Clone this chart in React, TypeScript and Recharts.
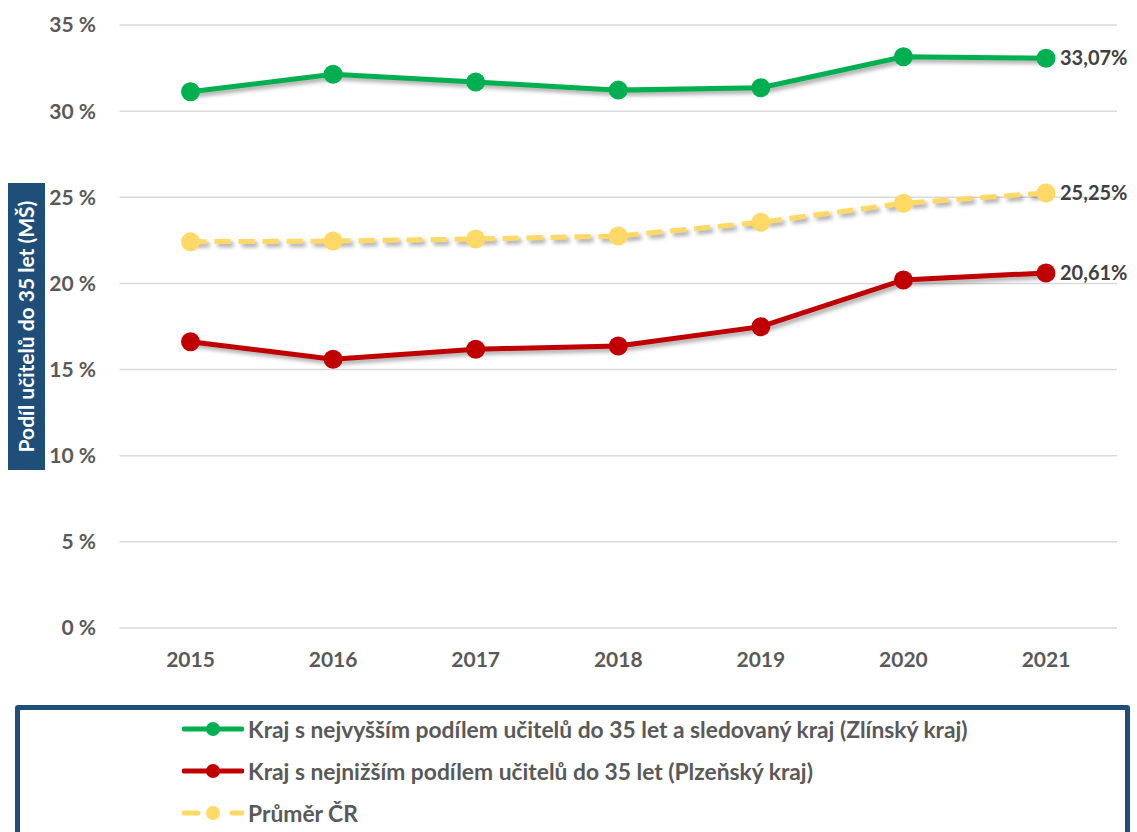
import { LineChart, Line, XAxis, YAxis, CartesianGrid, LabelList } from 'recharts';

const years = ['2015', '2016', '2017', '2018', '2019', '2020', '2021'];
const zlinsky = [31.13, 32.14, 31.69, 31.22, 31.36, 33.16, 33.07];
const plzensky = [16.62, 15.6, 16.18, 16.37, 17.49, 20.2, 20.61];
const prumerCR = [22.42, 22.46, 22.58, 22.75, 23.55, 24.65, 25.25];
const yTicks = [0, 5, 10, 15, 20, 25, 30, 35];

const SERIES = [
  { key: 'zlin', name: 'Kraj s nejvyšším podílem učitelů do 35 let a sledovaný kraj (Zlínský kraj)', color: '#00B050', dash: undefined },
  { key: 'plzen', name: 'Kraj s nejnižším podílem učitelů do 35 let (Plzeňský kraj)', color: '#C00000', dash: undefined },
  { key: 'cr', name: 'Průměr ČR', color: '#FFD966', dash: '16 8' },
];

const data = years.map((year, i) => ({
  year,
  zlin: zlinsky[i],
  plzen: plzensky[i],
  cr: prumerCR[i],
}));

const FONT = 'Lato, "Open Sans", sans-serif';
const AXIS_TEXT = { fill: '#595959', fontSize: 21, fontWeight: 700, fontFamily: FONT };

// only the last point gets a value label, Czech decimal comma
function LastLabel(props: any) {
  const { x, y, value, index } = props;
  if (index !== years.length - 1) return null;
  return (
    <text x={x + 14} y={y} dy="0.36em" fill="#404040" fontSize={20} fontWeight={700} fontFamily={FONT}>
      {Number(value).toFixed(2).replace('.', ',')}%
    </text>
  );
}

function YTitle(props: any) {
  const { viewBox } = props;
  const cy = viewBox.y + viewBox.height / 2;
  const w = 37;
  const h = 287;
  return (
    <g>
      <rect x={8} y={cy - h / 2} width={w} height={h} fill="#1F4E79" />
      <text
        x={8 + w / 2}
        y={cy}
        transform={`rotate(-90 ${8 + w / 2} ${cy})`}
        textAnchor="middle"
        dy="0.36em"
        fill="#fff"
        fontSize={21}
        fontWeight={700}
        fontFamily={FONT}
      >
        Podíl učitelů do 35 let (MŠ)
      </text>
    </g>
  );
}

function LegendIcon({ color, dash }: { color: string; dash?: string }) {
  return (
    <svg width={62} height={20} style={{ display: 'block' }}>
      {dash ? (
        <>
          <line x1={2} y1={10} x2={16} y2={10} stroke={color} strokeWidth={5} strokeLinecap="round" />
          <line x1={50} y1={10} x2={60} y2={10} stroke={color} strokeWidth={5} strokeLinecap="round" />
        </>
      ) : (
        <line x1={2} y1={10} x2={60} y2={10} stroke={color} strokeWidth={5} strokeLinecap="round" />
      )}
      <circle cx={31} cy={10} r={7} fill={color} />
    </svg>
  );
}

export default function App() {
  return (
    <div style={{ position: 'relative', width: 1137, height: 832, overflow: 'hidden', fontFamily: FONT }}>
      <style>{`body{margin:0} .recharts-line{filter:drop-shadow(3px 3px 2px rgba(0,0,0,0.35))}`}</style>
      <LineChart width={1137} height={700} data={data} margin={{ top: 25, right: 20, left: 0, bottom: 32 }}>
        <CartesianGrid vertical={false} stroke="#D9D9D9" strokeWidth={1.5} />
        <XAxis
          dataKey="year"
          height={40}
          padding={{ left: 71, right: 71 }}
          axisLine={false}
          tickLine={false}
          tickSize={0}
          tickMargin={24}
          tick={AXIS_TEXT}
        />
        <YAxis
          width={119.5}
          domain={[0, 35]}
          ticks={yTicks}
          axisLine={false}
          tickLine={false}
          tickSize={0}
          tickMargin={23.5}
          tick={AXIS_TEXT}
          tickFormatter={(v: number) => `${v} %`}
          label={<YTitle />}
        />
        {SERIES.map((s) => (
          <Line
            key={s.key}
            type="linear"
            dataKey={s.key}
            name={s.name}
            stroke={s.color}
            strokeWidth={5}
            strokeDasharray={s.dash}
            dot={{ r: 9.5, fill: s.color, stroke: 'none' }}
            activeDot={false}
            isAnimationActive={false}
          >
            <LabelList dataKey={s.key} content={<LastLabel />} />
          </Line>
        ))}
      </LineChart>

      <div
        style={{
          position: 'absolute',
          left: 15,
          top: 705,
          width: 1115,
          height: 150,
          boxSizing: 'border-box',
          border: '5px solid #1F4E79',
          borderRadius: 3,
        }}
      >
        {SERIES.map((s, i) => (
          <div
            key={s.key}
            style={{
              position: 'absolute',
              left: 162,
              top: 6 + i * 42,
              display: 'flex',
              alignItems: 'center',
              height: 26,
            }}
          >
            <LegendIcon color={s.color} dash={s.dash} />
            <span style={{ marginLeft: 4, color: '#595959', fontSize: 22.8, fontWeight: 700, whiteSpace: 'nowrap' }}>
              {s.name}
            </span>
          </div>
        ))}
      </div>
    </div>
  );
}
